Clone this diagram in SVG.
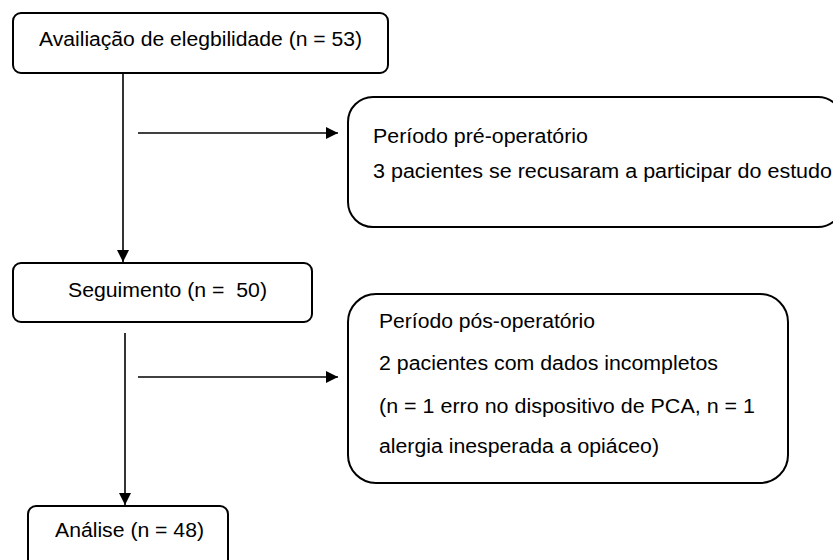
<svg xmlns="http://www.w3.org/2000/svg" width="833" height="560" viewBox="0 0 833 560">
<style>
.box{fill:#fff;stroke:#000;stroke-width:2}
.t{font-family:"Liberation Sans",Arial,sans-serif;font-size:20px;fill:#000}
.c{stroke:#000;stroke-width:1.6;fill:none}
</style>
<defs>
<marker id="ah" viewBox="0 0 12 12" refX="12" refY="6" markerWidth="12" markerHeight="12" markerUnits="userSpaceOnUse" orient="auto">
<path d="M0,0 L12,6 L0,12 Z" fill="#000"/>
</marker>
</defs>
<rect width="833" height="560" fill="#fff"/>
<g id="connectors">
<line class="c" x1="123" y1="73" x2="123" y2="262" marker-end="url(#ah)"/>
<line class="c" x1="125" y1="333" x2="125" y2="505" marker-end="url(#ah)"/>
<line class="c" x1="138" y1="133" x2="338" y2="133" marker-end="url(#ah)"/>
<line class="c" x1="138" y1="377" x2="338" y2="377" marker-end="url(#ah)"/>
</g>
<g id="elegibilidade">
<rect class="box" x="13" y="13" width="375" height="60" rx="8"/>
<text class="t" x="39" y="46" textLength="323" lengthAdjust="spacingAndGlyphs">Availiação de elegbilidade (n = 53)</text>
</g>
<g id="pre-operatorio">
<rect class="box" x="348" y="97" width="495" height="130" rx="25"/>
<text class="t" x="373" y="143" textLength="215" lengthAdjust="spacingAndGlyphs">Período pré-operatório</text>
<text class="t" x="373" y="178" textLength="459" lengthAdjust="spacingAndGlyphs">3 pacientes se recusaram a participar do estudo</text>
</g>
<g id="seguimento">
<rect class="box" x="13" y="263" width="299" height="59" rx="8"/>
<text class="t" x="68" y="297" textLength="199" lengthAdjust="spacingAndGlyphs" xml:space="preserve">Seguimento (n =  50)</text>
</g>
<g id="pos-operatorio">
<rect class="box" x="348" y="294" width="440" height="189" rx="28"/>
<text class="t" x="379" y="328" textLength="216" lengthAdjust="spacingAndGlyphs">Período pós-operatório</text>
<text class="t" x="379" y="370" textLength="339" lengthAdjust="spacingAndGlyphs">2 pacientes com dados incompletos</text>
<text class="t" x="379" y="413" textLength="376" lengthAdjust="spacingAndGlyphs">(n = 1 erro no dispositivo de PCA, n = 1</text>
<text class="t" x="379" y="453" textLength="280" lengthAdjust="spacingAndGlyphs">alergia inesperada a opiáceo)</text>
</g>
<g id="analise">
<rect class="box" x="28" y="506" width="200" height="70" rx="8"/>
<text class="t" x="55" y="537" textLength="149" lengthAdjust="spacingAndGlyphs">Análise (n = 48)</text>
</g>
</svg>
